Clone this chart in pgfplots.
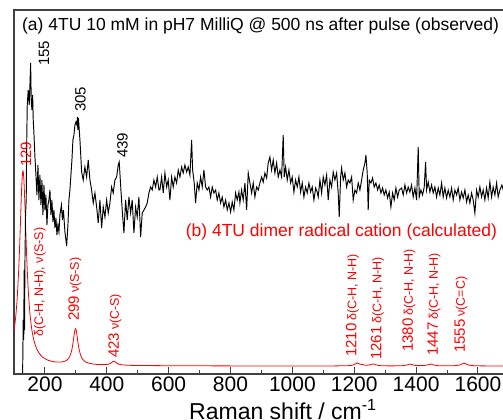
\documentclass[border=0pt]{standalone}
\usepackage{fontspec}
\setmainfont{Liberation Sans}
\usepackage{pgfplots}
\pgfplotsset{compat=1.18}
\newcommand{\numf}{\fontsize{15}{18}\selectfont}
\newcommand{\smf}{\fontsize{12.5}{15}\selectfont}
\begin{document}
\begin{tikzpicture}
\useasboundingbox (-14pt,-46pt) rectangle (489pt,374pt);
\clip (-14pt,-46pt) rectangle (489pt,374pt);
\begin{axis}[
  at={(0pt,0pt)}, anchor=south west,
  scale only axis, width=525.8pt, height=364pt,
  xmin=100, xmax=1800, ymin=0, ymax=364,
  xtick={200,400,...,1600}, minor x tick num=1,
  ytick=\empty,
  xtick pos=left,
  tick align=inside,
  major tick length=7pt, minor tick length=4pt,
  axis line style={black!75, line width=1.3pt},
  tick style={black!75, line width=1pt},
  ticklabel style={font=\fontsize{21}{24}\selectfont},
  xticklabel style={yshift=1pt},
  /pgf/number format/1000 sep={},
  /pgf/number format/assume math mode=true,
  xlabel={Raman shift / cm\textsuperscript{-1}},
  xlabel style={font=\fontsize{23}{26}\selectfont, yshift=-1pt, xshift=6pt},
  clip=false,
]
\addplot[red, line width=0.8pt, smooth, tension=0.4] coordinates {
(100,43.3) (105,55.5) (110,74.2) (115,102.8) (118,126) (121,153) (124,180) (126,194) (128,202) (129,203.1) (130,202.1) (132,194.2) (134,180) (137,153.1) (140,126.1) (143,102.9) (147,79.1) (152,58.7) (158,43.6) (165,32.8) (175,24.1) (190,17.5) (210,13.8) (230,12.2) (250,11.9) (265,12.8) (275,15.0) (282,18.8) (287,24.2) (291,31.4) (294,38.2) (297,43.9) (299,45.3) (301,43.9) (304,38.0) (307,31.1) (311,23.9) (316,18.3) (323,14.3) (335,11.5) (355,10.0) (380,9.4) (400,9.55) (410,10.3) (416,11.5) (420,12.45) (423,12.8) (426,12.4) (430,11.4) (436,10.2) (446,9.3) (470,8.7) (520,8.5) (600,8.3) (800,8.1) (1000,8.05) (1100,8.0) (1180,8.3) (1195,8.9) (1203,10.0) (1210,11.1) (1217,10.0) (1225,9.5) (1240,8.7) (1252,9.3) (1261,10.1) (1270,9.2) (1285,8.35) (1320,8.1) (1360,8.4) (1372,9.2) (1380,10.0) (1388,9.25) (1400,8.5) (1425,8.45) (1439,9.25) (1447,10.0) (1455,9.25) (1470,8.35) (1520,8.25) (1540,8.9) (1548,10.0) (1555,11.0) (1562,10.0) (1570,8.9) (1590,8.25) (1650,8.05) (1800,8.0)
};
\addplot[black, line width=0.95pt] coordinates {
(127.9,1) (129.8,54) (131.5,34) (132.8,104) (134.0,44) (135.3,109) (137.3,159) (139.5,174) (141.2,234) (142.8,269) (146.0,284) (149.2,269) (151.5,289) (153.8,311) (155.7,274) (158.0,264) (160.3,279) (162.2,254) (164.4,241) (167.7,217) (170.9,199) (174.1,179) (177.4,209) (180.6,174) (183.8,199) (187.1,169) (190.3,194) (193.5,159) (196.8,189) (200.0,164) (203.2,179) (206.5,149) (209.7,169) (212.9,174) (216.2,184) (219.4,159) (222.6,174) (225.9,152) (229.1,164) (232.3,146) (235.6,156) (238.8,139) (242.0,149) (245.3,142) (248.5,159) (253.3,169) (256.6,154) (259.8,164) (264.7,142) (270.2,128) (274.4,149) (277.6,174) (280.8,184) (284.1,199) (287.3,214) (290.5,234) (293.8,239) (297.0,249) (300.2,252) (303.5,249) (305.1,257) (306.7,244) (308.3,256)
(313.2,234) (318.7,202) (323.8,194) (329.3,207) (334.8,197) (340.0,214) (345.5,194) (351.0,184) (356.2,171) (361.7,181) (367.2,167) (372.3,151) (377.8,174) (383.3,146) (388.5,167) (394.0,157) (399.5,174) (404.7,161) (410.1,171) (415.6,187) (420.8,181) (426.3,194) (431.8,197) (437.0,209) (440.2,212) (445.7,184) (449.9,164) (455.4,141) (460.9,174) (466.1,154) (471.6,177) (477.1,161) (482.2,174) (487.7,141) (493.2,167) (498.4,157) (503.9,177) (509.4,137) (514.6,161) (520.1,164) (525.6,167) (530.7,171) (536.2,181) (541.7,187) (546.9,184) (552.4,194) (557.9,187) (563.1,197) (568.6,184)
(571.8,184) (577.3,197) (582.5,181) (588.0,201) (593.5,187) (598.6,194) (604.1,174) (609.6,197) (614.8,187) (620.3,197) (625.8,191) (631.0,204) (636.5,197) (642.0,207) (647.1,201) (652.6,209) (658.1,202) (663.3,207) (668.8,199) (674.3,234) (677.5,204) (682.7,191) (687.2,171) (692.4,191) (697.9,184) (703.4,197) (708.6,187) (714.0,204) (719.5,187) (724.7,184) (730.2,187) (735.7,177) (740.9,187) (746.4,181) (751.9,184) (757.0,174) (762.5,181) (768.0,171) (773.2,177) (778.7,167) (784.2,174) (789.4,164) (794.9,171) (800.4,162) (805.5,172) (811.0,164) (816.5,181) (821.7,174) (827.2,182)
(830.4,171) (835.9,184) (841.1,174) (846.6,191) (852.1,164) (857.3,201) (862.8,191) (868.3,181) (873.4,191) (878.9,177) (884.4,187) (889.6,184) (895.1,191) (900.6,197) (905.8,192) (911.3,201) (916.8,196) (921.9,211) (927.4,217) (932.9,204) (938.1,214) (943.6,201) (949.1,211) (954.3,197) (959.8,204) (965.2,197) (970.4,239) (973.7,197) (978.2,207) (983.4,194) (988.9,204) (994.4,191) (999.5,197) (1005.0,182) (1010.5,194) (1015.7,187) (1021.2,197) (1026.7,182) (1031.9,191) (1037.3,177) (1042.8,187) (1048.0,181) (1053.5,191) (1059.0,182) (1064.2,187) (1069.7,174) (1075.2,186) (1080.3,182)
(1083.6,177) (1089.1,194) (1094.6,181) (1099.8,197) (1105.2,189) (1110.7,199) (1115.9,174) (1121.4,194) (1126.9,187) (1132.1,202) (1137.6,194) (1143.1,201) (1148.2,181) (1151.5,157) (1156.0,197) (1159.2,206) (1164.4,194) (1169.9,201) (1175.4,187) (1180.6,194) (1186.1,191) (1191.6,197) (1196.7,174) (1202.2,184) (1207.7,181) (1212.9,191) (1218.4,184) (1223.9,194) (1229.1,204) (1234.6,211) (1237.8,219) (1242.0,201) (1245.2,164) (1248.5,194) (1254.0,191) (1259.5,196) (1264.6,187) (1270.1,191) (1275.6,184) (1280.8,189) (1286.3,181) (1291.8,186) (1296.9,179) (1302.4,184) (1307.9,176) (1313.1,182) (1318.6,167) (1324.1,181) (1329.3,174) (1334.8,186) (1340.2,177) (1345.4,184)
(1353.2,186) (1358.4,179) (1363.9,189) (1369.4,181) (1374.6,187) (1380.0,182) (1385.5,189) (1390.7,177) (1396.2,186) (1401.7,174) (1406.9,227) (1410.1,177) (1415.6,184) (1421.1,179) (1426.3,187) (1430.8,212) (1434.0,184) (1439.2,192) (1444.7,182) (1450.2,189) (1455.3,181) (1460.8,187) (1466.3,177) (1471.5,186) (1477.0,179) (1482.5,191) (1487.6,177) (1493.1,186) (1498.6,176) (1503.8,184) (1509.3,177) (1514.8,186) (1520.0,174) (1525.5,184) (1531.0,179) (1536.1,186) (1541.6,174) (1547.1,182) (1552.3,176) (1557.8,184) (1563.3,172) (1568.4,179) (1573.9,171) (1579.4,181) (1584.6,174) (1590.1,161) (1595.6,184) (1600.8,177) (1606.3,187) (1611.7,177) (1616.9,184) (1622.4,174) (1627.9,186) (1633.1,176) (1638.6,192) (1644.1,177) (1649.3,187) (1654.8,179) (1660.3,191) (1665.4,177) (1670.9,184) (1677.4,189) (1683.8,182) (1690.3,187) (1697.0,184)
};
% titles
\node[anchor=base west, inner sep=0, font=\fontsize{17.5}{21}\selectfont] at (axis cs:125.6,343) {(a) 4TU 10 mM in pH7 MilliQ @ 500 ns after pulse (observed)};
\node[anchor=base west, inner sep=0, red, font=\fontsize{17.5}{21}\selectfont] at (axis cs:654.9,137) {(b) 4TU dimer radical cation (calculated)};
% observed peak labels
\node[rotate=90, anchor=west, inner sep=0, font=\numf] at (axis cs:197,308) {155};
\node[rotate=90, anchor=west, inner sep=0, font=\numf] at (axis cs:315,262) {305};
\node[rotate=90, anchor=west, inner sep=0, font=\numf] at (axis cs:450.6,216) {439};
% calculated peak labels
\node[rotate=90, anchor=west, inner sep=0, red, font=\numf] at (axis cs:138.6,207) {129};
\node[rotate=90, anchor=west, inner sep=0, red, font=\smf] at (axis cs:183.8,37) {δ(C-H, N-H), ν(S-S)};
\node[rotate=90, anchor=west, inner sep=0, red] at (axis cs:297,53) {{\numf 299} {\smf ν(S-S)}};
\node[rotate=90, anchor=west, inner sep=0, red] at (axis cs:426.3,16) {{\numf 423} {\smf ν(C-S)}};
\node[rotate=90, anchor=west, inner sep=0, red] at (axis cs:1194,17) {{\numf 1210} {\smf δ(C-H, N-H)}};
\node[rotate=90, anchor=west, inner sep=0, red] at (axis cs:1275,14) {{\numf 1261} {\smf δ(C-H, N-H)}};
\node[rotate=90, anchor=west, inner sep=0, red] at (axis cs:1377,22) {{\numf 1380} {\smf δ(C-H, N-H)}};
\node[rotate=90, anchor=west, inner sep=0, red] at (axis cs:1458,18) {{\numf 1447} {\smf δ(C-H, N-H)}};
\node[rotate=90, anchor=west, inner sep=0, red] at (axis cs:1545,21) {{\numf 1555} {\smf ν(C=C)}};
\end{axis}
\end{tikzpicture}
\end{document}
